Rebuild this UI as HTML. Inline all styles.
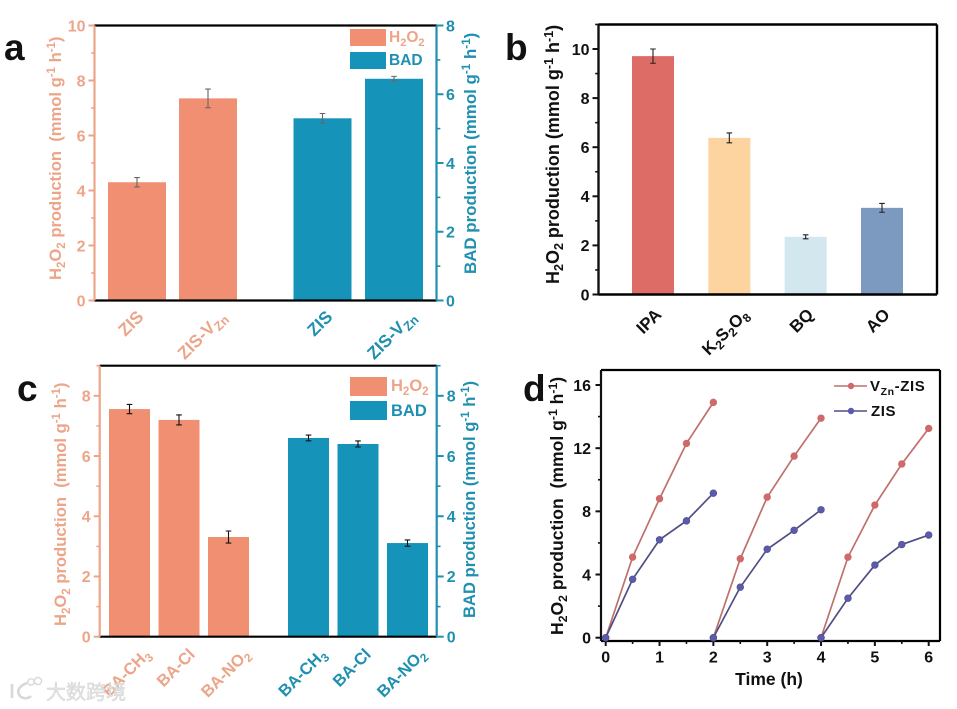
<!DOCTYPE html>
<html>
<head>
<meta charset="utf-8">
<title>Four panel chart</title>
<style>
html,body{margin:0;padding:0;background:#fff;}
svg{display:block;}
text{font-family:"Liberation Sans","Noto Sans CJK SC",sans-serif;font-weight:bold;}
.sal{fill:#eda589;}
.tea{fill:#1f90b0;}
.blk{fill:#111;}
</style>
</head>
<body>
<svg id="figure" xmlns="http://www.w3.org/2000/svg" width="957" height="709" viewBox="0 0 957 709">
  <rect x="0" y="0" width="957" height="709" fill="#fff"/>

  <text x="4" y="60" font-size="37" class="blk">a</text>
  <text x="505" y="60" font-size="37" class="blk">b</text>
  <text x="17" y="401" font-size="37" class="blk">c</text>
  <text x="523" y="401" font-size="37" class="blk">d</text>

  <g id="panel-a"></g>
  <g id="panel-b"></g>
  <g id="panel-c"></g>
  <g id="panel-d"></g>

  <!-- axis titles -->
  <text transform="translate(61,280) rotate(-90)" font-size="16.6" class="sal" xml:space="preserve">H<tspan font-size="11.5" dy="4">2</tspan><tspan dy="-4">O</tspan><tspan font-size="11.5" dy="4">2</tspan><tspan dy="-4"> production  (mmol g</tspan><tspan font-size="11.5" dy="-6">-1</tspan><tspan dy="6"> h</tspan><tspan font-size="11.5" dy="-6">-1</tspan><tspan dy="6">)</tspan></text>
  <text transform="translate(476,274) rotate(-90)" font-size="16.9" class="tea" xml:space="preserve">BAD production (mmol g<tspan font-size="11.7" dy="-6">-1</tspan><tspan dy="6"> h</tspan><tspan font-size="11.7" dy="-6">-1</tspan><tspan dy="6">)</tspan></text>
  <text transform="translate(559,284) rotate(-90)" font-size="18" class="blk" xml:space="preserve">H<tspan font-size="12.5" dy="4">2</tspan><tspan dy="-4">O</tspan><tspan font-size="12.5" dy="4">2</tspan><tspan dy="-4"> production (mmol g</tspan><tspan font-size="12.5" dy="-6">-1</tspan><tspan dy="6"> h</tspan><tspan font-size="12.5" dy="-6">-1</tspan><tspan dy="6">)</tspan></text>
  <text transform="translate(66,626) rotate(-90)" font-size="16.6" class="sal" xml:space="preserve">H<tspan font-size="11.5" dy="4">2</tspan><tspan dy="-4">O</tspan><tspan font-size="11.5" dy="4">2</tspan><tspan dy="-4"> production  (mmol g</tspan><tspan font-size="11.5" dy="-6">-1</tspan><tspan dy="6"> h</tspan><tspan font-size="11.5" dy="-6">-1</tspan><tspan dy="6">)</tspan></text>
  <text transform="translate(475,618) rotate(-90)" font-size="16.6" class="tea" xml:space="preserve">BAD production (mmol g<tspan font-size="11.5" dy="-6">-1</tspan><tspan dy="6"> h</tspan><tspan font-size="11.5" dy="-6">-1</tspan><tspan dy="6">)</tspan></text>
  <text transform="translate(563,635) rotate(-90)" font-size="17.6" class="blk" xml:space="preserve">H<tspan font-size="12.2" dy="4">2</tspan><tspan dy="-4">O</tspan><tspan font-size="12.2" dy="4">2</tspan><tspan dy="-4"> production  (mmol g</tspan><tspan font-size="12.2" dy="-6">-1</tspan><tspan dy="6"> h</tspan><tspan font-size="12.2" dy="-6">-1</tspan><tspan dy="6">)</tspan></text>
  <text x="769" y="685" text-anchor="middle" font-size="17.5" class="blk">Time (h)</text>

  <!-- legends -->
  <g>
    <rect x="350" y="29" width="36" height="17" fill="#f08f72"/>
    <text x="389" y="42" font-size="15.5" class="sal">H<tspan font-size="11" dy="4">2</tspan><tspan dy="-4">O</tspan><tspan font-size="11" dy="4">2</tspan></text>
    <rect x="350" y="52" width="36" height="17" fill="#1593b8"/>
    <text x="389" y="65" font-size="15.5" class="tea">BAD</text>
  </g>
  <g>
    <rect x="350" y="377" width="37" height="19" fill="#f08f72"/>
    <text x="391" y="391" font-size="16.5" class="sal">H<tspan font-size="11.5" dy="4">2</tspan><tspan dy="-4">O</tspan><tspan font-size="11.5" dy="4">2</tspan></text>
    <rect x="350" y="401" width="37" height="19" fill="#1593b8"/>
    <text x="391" y="416" font-size="16.5" class="tea">BAD</text>
  </g>
  <g>
    <line x1="834" y1="386" x2="867" y2="386" stroke="#c0706c" stroke-width="1.6"/>
    <circle cx="851" cy="386" r="3.2" fill="#d2686a"/>
    <text x="870" y="391" font-size="15" letter-spacing="0.6" class="blk">V<tspan font-size="10.5" dy="4">Zn</tspan><tspan dy="-4">-ZIS</tspan></text>
    <line x1="834" y1="411" x2="867" y2="411" stroke="#4f4f85" stroke-width="1.6"/>
    <circle cx="851" cy="411" r="3.2" fill="#5a5aae"/>
    <text x="871" y="416" font-size="15" letter-spacing="0.6" class="blk">ZIS</text>
  </g>

  <!-- watermark -->
  <g>
    <path d="M12 684 L12 698 M27 683 C19 686 16 691 20 696 C23 699 28 699 31 696" fill="none" stroke="#d8d8d8" stroke-width="2.6"/>
    <circle cx="31" cy="682" r="3.2" fill="none" stroke="#d8d8d8" stroke-width="1.4"/>
    <circle cx="38" cy="681" r="3.6" fill="none" stroke="#d8d8d8" stroke-width="1.4"/>
    <text x="46" y="699" font-size="20" style="font-family:'Liberation Sans','Noto Sans CJK SC',sans-serif;font-weight:normal" fill="#e4e4e4" stroke="#cfcfcf" stroke-width="0.4">大数跨境</text>
  </g>
</svg>

<script>
// Panel a data
const aCategories = ["ZIS", "ZIS-V{Zn}"];
const aH2O2Values = [4.3, 7.35];
const aH2O2Errors = [0.17, 0.34];
const aBadValues = [5.3, 6.45];
const aBadErrors = [0.14, 0.07];
const aLeftTicks = [0, 2, 4, 6, 8, 10];
const aLeftMinor = [1, 3, 5, 7, 9];
const aRightTicks = [0, 2, 4, 6, 8];
const aRightMinor = [1, 3, 5, 7];

// Panel b data
const bCategories = ["IPA", "K{2}S{2}O{8}", "BQ", "AO"];
const bValues = [9.71, 6.38, 2.35, 3.53];
const bErrors = [0.29, 0.2, 0.08, 0.18];
const bColors = ["#dd6b66", "#fdd3a0", "#d3e7ef", "#7c99c0"];
const bTicks = [0, 2, 4, 6, 8, 10];
const bMinor = [1, 3, 5, 7, 9, 11];

// Panel c data
const cCategories = ["BA-CH{3}", "BA-Cl", "BA-NO{2}"];
const cH2O2Values = [7.56, 7.2, 3.31];
const cH2O2Errors = [0.155, 0.166, 0.2];
const cBadValues = [6.6, 6.4, 3.11];
const cBadErrors = [0.095, 0.1, 0.105];
const cTicks = [0, 2, 4, 6, 8];
const cMinor = [1, 3, 5, 7, 9];

// Panel d data
const dTimes = [0, 0.5, 1, 1.5, 2, 2, 2.5, 3, 3.5, 4, 4, 4.5, 5, 5.5, 6];
const dVznValues = [0, 5.1, 8.8, 12.3, 14.9, 0, 5.0, 8.9, 11.5, 13.9, 0, 5.1, 8.4, 11.0, 13.25];
const dZisValues = [0, 3.7, 6.2, 7.4, 9.15, 0, 3.2, 5.6, 6.8, 8.1, 0, 2.5, 4.6, 5.9, 6.5];
const dXTicks = [0, 1, 2, 3, 4, 5, 6];
const dXMinor = [0.5, 1.5, 2.5, 3.5, 4.5, 5.5];
const dYTicks = [0, 4, 8, 12, 16];
const dYMinor = [2, 6, 10, 14];

const NS = "http://www.w3.org/2000/svg";
function add(parent, tag, attrs) {
  const n = document.createElementNS(NS, tag);
  for (const k in attrs) n.setAttribute(k, attrs[k]);
  parent.appendChild(n);
  return n;
}
function linear(d0, d1, r0, r1) {
  return function (v) { return r0 + (v - d0) * (r1 - r0) / (d1 - d0); };
}
function slug(s) {
  return String(s).toLowerCase().replace(/[^a-z0-9]+/g, "-").replace(/-$/, "");
}

function yAxis(g, name, xAxis, y, major, minor, color, side, labelGap, tickLen, fontSize, sw) {
  const line = add(g, "line", { x1: xAxis, x2: xAxis, y1: y.top, y2: y.bottom, stroke: color, "stroke-width": sw });
  
  
  major.forEach(function (v) {
    const t = add(g, "line", { x1: xAxis, x2: xAxis + side * tickLen, y1: y(v), y2: y(v), stroke: color, "stroke-width": 2 });
    
    
    const l = add(g, "text", { x: xAxis + side * labelGap, y: y(v) + fontSize * 0.36, "text-anchor": side < 0 ? "end" : "start", "font-size": fontSize, fill: color });
    l.textContent = v;
    
    
  });
  minor.forEach(function (v) {
    const t = add(g, "line", { x1: xAxis, x2: xAxis + side * tickLen * 0.55, y1: y(v), y2: y(v), stroke: color, "stroke-width": 1.6 });
    
    
  });
}

function hLine(g, name, x1, x2, yy, color, sw) {
  const l = add(g, "line", { x1: x1, x2: x2, y1: yy, y2: yy, stroke: color, "stroke-width": sw });
  
  
}
function vLine(g, name, xx, y1, y2, color, sw) {
  const l = add(g, "line", { x1: xx, x2: xx, y1: y1, y2: y2, stroke: color, "stroke-width": sw });
  
  
}

function bars(g, name, cats, vals, errs, xc, width, y, colorOf, errColor, capHalf) {
  vals.forEach(function (v, i) {
    const cx = xc(i);
    const r = add(g, "rect", { x: cx - width / 2, y: y(v), width: width, height: y(0) - y(v), fill: colorOf(i) });
    
    
  });
  vals.forEach(function (v, i) {
    const cx = xc(i);
    const e = add(g, "path", {
      d: "M" + (cx - capHalf) + " " + y(v + errs[i]) + "H" + (cx + capHalf) +
         "M" + cx + " " + y(v + errs[i]) + "V" + y(v - errs[i]) +
         "M" + (cx - capHalf) + " " + y(v - errs[i]) + "H" + (cx + capHalf),
      stroke: errColor, "stroke-width": 1.1, fill: "none"
    });
    
    
  });
}

function catLabels(g, name, cats, xc, dx, topY, fontSize, color) {
  cats.forEach(function (c, i) {
    const t = add(g, "text", { "text-anchor": "middle", "font-size": fontSize, fill: color });
    
    
    const parts = c.split(/(\{[^}]+\})/).filter(Boolean);
    let lowered = false;
    parts.forEach(function (p) {
      const s = add(t, "tspan", {});
      if (p[0] === "{") {
        s.textContent = p.slice(1, -1);
        s.setAttribute("font-size", fontSize * 0.72);
        s.setAttribute("dy", 4);
        lowered = true;
      } else {
        s.textContent = p;
        if (lowered) { s.setAttribute("dy", -4); lowered = false; }
      }
    });
    const L = t.getComputedTextLength();
    const h = fontSize * 0.72;
    const cy = topY + (L + h) * 0.3535;
    t.setAttribute("transform", "translate(" + (xc(i) + dx) + "," + cy + ") rotate(-45) translate(0," + (h / 2) + ")");
  });
}

const SAL = "#f08f72", TEA = "#1593b8", SALT = "#eda589", TEAT = "#1f90b0";

/* Panel a */
(function () {
  const g = document.getElementById("panel-a");
  const top = 25.5, bottom = 300.5, left = 94.5, right = 436.5;
  const yL = linear(0, 10, bottom, top); yL.top = top; yL.bottom = bottom;
  const yR = linear(0, 8, bottom, top); yR.top = top; yR.bottom = bottom;
  const xH = linear(0, 1, 137, 208);
  const xB = linear(0, 1, 322.5, 394);
  bars(g, "a-h2o2", aCategories, aH2O2Values, aH2O2Errors, xH, 58, yL, function () { return SAL; }, "#666", 2.8);
  bars(g, "a-bad", aCategories, aBadValues, aBadErrors, xB, 58, yR, function () { return TEA; }, "#666", 2.8);
  hLine(g, "a-top-border", left, right, top, "#000", 2.2);
  hLine(g, "a-x-axis-line", left, right, bottom, "#000", 2.2);
  yAxis(g, "a-left-axis", left, yL, aLeftTicks, aLeftMinor, SALT, -1, 9, 6, 16, 2.2);
  yAxis(g, "a-right-axis", right, yR, aRightTicks, aRightMinor, TEAT, 1, 9.5, 7, 16, 2.2);
  catLabels(g, "a-h2o2-x", aCategories, xH, -6.5, 309, 17.5, SALT);
  catLabels(g, "a-bad-x", aCategories, xB, -3, 309, 17.5, TEAT);
})();

/* Panel b */
(function () {
  const g = document.getElementById("panel-b");
  const top = 24.5, bottom = 294.5, left = 598.5, right = 937;
  const y = linear(0, 10, bottom, 49); y.top = top; y.bottom = bottom;
  const x = linear(0, 3, 653, 882);
  bars(g, "b", bCategories, bValues, bErrors, x, 42, y, function (i) { return bColors[i]; }, "#222", 2.8);
  hLine(g, "b-top-border", left, right, top, "#000", 2.4);
  hLine(g, "b-x-axis-line", left, right, bottom, "#000", 2.4);
  vLine(g, "b-right-border", right, top, bottom, "#000", 2.4);
  yAxis(g, "b-y-axis", left, y, bTicks, bMinor, "#111", -1, 9, 6, 16, 2.4);
  catLabels(g, "b-x", bCategories, x, -4.5, 307, 17, "#111");
})();

/* Panel c */
(function () {
  const g = document.getElementById("panel-c");
  const top = 365.7, bottom = 636.7, left = 99.7, right = 436.7;
  const y = linear(0, 9, bottom, top); y.top = top; y.bottom = bottom;
  const xH = linear(0, 2, 129.5, 228.5);
  const xB = linear(0, 2, 308.5, 407.5);
  bars(g, "c-h2o2", cCategories, cH2O2Values, cH2O2Errors, xH, 41, y, function () { return SAL; }, "#111", 2.8);
  bars(g, "c-bad", cCategories, cBadValues, cBadErrors, xB, 41, y, function () { return TEA; }, "#111", 2.8);
  hLine(g, "c-top-border", left, right, top, "#000", 2.2);
  hLine(g, "c-x-axis-line", left, right, bottom, "#000", 2.2);
  yAxis(g, "c-left-axis", left, y, cTicks, cMinor, SALT, -1, 9, 6, 16, 2.2);
  yAxis(g, "c-right-axis", right, y, cTicks, cMinor, TEAT, 1, 10, 7, 16, 2.2);
  catLabels(g, "c-h2o2-x", cCategories, xH, -3.5, 647, 16.5, SALT);
  catLabels(g, "c-bad-x", cCategories, xB, -6.5, 647, 16.5, TEAT);
})();

/* Panel d */
(function () {
  const g = document.getElementById("panel-d");
  const top = 370, bottom = 641, left = 601, right = 940;
  const x = linear(0, 6, 605.7, 928.7);
  const y = linear(0, 16, 637.7, 385); y.top = top; y.bottom = bottom;
  hLine(g, "d-top-border", left, right, top, "#000", 2.2);
  hLine(g, "d-x-axis-line", left, right, bottom, "#000", 2.2);
  vLine(g, "d-right-border", right, top, bottom, "#000", 2.2);
  yAxis(g, "d-y-axis", left, y, dYTicks, dYMinor, "#111", -1, 10, 5.5, 16, 2.2);
  dXTicks.forEach(function (v) {
    vLine(g, "d-x-tick-" + v, x(v), bottom, bottom + 5, "#111", 2);
    const l = add(g, "text", { x: x(v), y: 662.5, "text-anchor": "middle", "font-size": 16, fill: "#111" });
    l.textContent = v;
    
    
  });
  dXMinor.forEach(function (v) {
    vLine(g, "d-x-minor-tick-" + v, x(v), bottom, bottom + 3, "#111", 1.6);
  });
  function series(name, vals, lineColor, markerColor) {
    for (let s = 0; s < 3; s++) {
      const pts = [];
      for (let i = s * 5; i < s * 5 + 5; i++) pts.push(x(dTimes[i]) + "," + y(vals[i]));
      const p = add(g, "polyline", { points: pts.join(" "), fill: "none", stroke: lineColor, "stroke-width": 1.7 });
      
      
    }
    vals.forEach(function (v, i) {
      const c = add(g, "circle", { cx: x(dTimes[i]), cy: y(v), r: 3.4, fill: markerColor, stroke: lineColor, "stroke-width": 0.6 });
      
      
    });
  }
  series("d-vzn-zis", dVznValues, "#c0706c", "#d2686a");
  series("d-zis", dZisValues, "#4f4f85", "#5a5aae");
})();
</script>
</body>
</html>
